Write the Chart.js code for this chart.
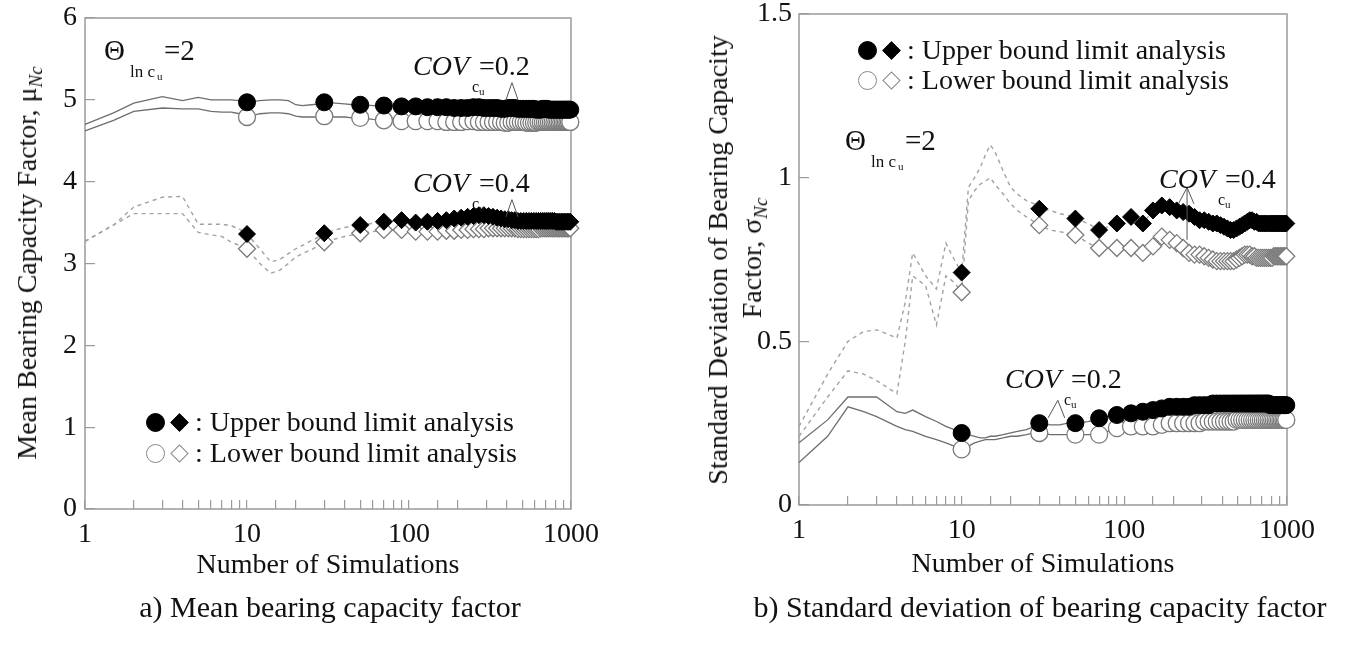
<!DOCTYPE html>
<html><head><meta charset="utf-8">
<script src="https://cdn.jsdelivr.net/npm/chart.js@4.4.1/dist/chart.umd.min.js"></script>
<style>
html,body{margin:0;padding:0;background:#fff;}
#wrap{position:relative;width:1370px;height:654px;overflow:hidden;font-family:'Liberation Serif','Times New Roman',serif;color:#111;}
canvas{position:absolute;top:0;}
.t{position:absolute;white-space:nowrap;line-height:1;}
.rot{position:absolute;white-space:nowrap;line-height:1;transform:translate(-50%,-50%) rotate(-90deg);font-size:28px;}
.cap{position:absolute;white-space:nowrap;line-height:1;transform:translateX(-50%);font-size:30px;}
.sym{position:absolute;box-sizing:border-box;}
</style></head>
<body><div id="wrap">
<canvas id="cL" width="650" height="600" style="left:0px"></canvas>
<canvas id="cR" width="720" height="600" style="left:650px"></canvas>
</div>
<script>
// ---------------- DATA ----------------
const xTickValues = [1, 10, 100, 1000];
// simulation counts where markers are drawn
const markerN = [10,30,50,70,90,110,130,150,170,190,210,230,250,270,290,310,330,350,370,390,
                 410,430,450,470,490,510,530,550,570,590,610,630,650,670,690,710,730,750,770,790,
                 810,830,850,870,890,910,930,950,970,990];
// early (un-marked) simulation counts for the running lines
const simN_L = [1,1.5,2,3,4,5,6,7,8,9,10,12,14,16,18,20,22,25,28,30,35,40,45,50,60,70];
const simN_R = [1,1.5,2,2.5,3,4,4.5,5,6,7,8,9,10,11,12,13,14,15,16,18,20,22,25,28,30,35,40,45,50,60,70];

// (a) mean bearing capacity factor
const meanUB02_line = [4.70,4.84,4.96,5.04,4.99,5.03,5.00,5.00,5.00,4.99,4.97,4.99,5.00,5.00,4.99,4.94,4.93,4.94,4.95,4.97,4.96,4.95,4.94,4.94,4.93,4.93];
const meanLB02_line = [4.62,4.75,4.86,4.90,4.89,4.89,4.86,4.85,4.85,4.83,4.79,4.83,4.84,4.84,4.83,4.80,4.79,4.79,4.79,4.80,4.79,4.79,4.78,4.78,4.76,4.75];
const meanUB04_line = [3.27,3.47,3.69,3.81,3.82,3.48,3.48,3.48,3.46,3.42,3.36,3.18,3.02,3.05,3.12,3.18,3.22,3.28,3.33,3.37,3.41,3.44,3.46,3.47,3.49,3.51];
const meanLB04_line = [3.27,3.47,3.61,3.61,3.61,3.38,3.35,3.33,3.26,3.22,3.18,3.00,2.88,2.92,3.00,3.08,3.12,3.17,3.22,3.26,3.30,3.33,3.35,3.37,3.39,3.41];

const meanUB02 = [4.97,4.97,4.94,4.93,4.92,4.92,4.91,4.91,4.91,4.90,
                  4.90,4.90,4.91,4.91,4.90,4.90,4.90,4.90,4.89,4.89,
                  4.90,4.90,4.90,4.89,4.89,4.89,4.89,4.89,4.89,4.89,
                  4.88,4.88,4.88,4.89,4.89,4.89,4.88,4.88,4.88,4.88,
                  4.88,4.88,4.88,4.88,4.88,4.88,4.88,4.88,4.88,4.88];
const meanLB02 = [4.79,4.80,4.78,4.75,4.74,4.74,4.74,4.74,4.73,4.73,
                  4.73,4.74,4.74,4.73,4.73,4.73,4.73,4.73,4.73,4.72,
                  4.72,4.73,4.73,4.73,4.73,4.73,4.72,4.72,4.72,4.72,
                  4.72,4.73,4.73,4.73,4.73,4.73,4.73,4.73,4.73,4.73,
                  4.73,4.73,4.73,4.73,4.73,4.73,4.73,4.73,4.73,4.73];
const meanUB04 = [3.36,3.37,3.47,3.51,3.53,3.50,3.51,3.52,3.53,3.55,
                  3.56,3.57,3.58,3.59,3.59,3.58,3.57,3.56,3.55,3.54,
                  3.54,3.53,3.53,3.52,3.52,3.52,3.52,3.52,3.52,3.52,
                  3.52,3.52,3.52,3.52,3.52,3.52,3.52,3.52,3.52,3.52,
                  3.51,3.51,3.51,3.51,3.51,3.51,3.51,3.51,3.51,3.51];
const meanLB04 = [3.18,3.26,3.37,3.41,3.41,3.39,3.39,3.39,3.40,3.40,
                  3.41,3.41,3.42,3.42,3.42,3.43,3.43,3.43,3.43,3.43,
                  3.43,3.43,3.43,3.42,3.42,3.42,3.42,3.42,3.42,3.42,
                  3.42,3.42,3.43,3.43,3.43,3.43,3.43,3.43,3.43,3.43,
                  3.43,3.43,3.43,3.43,3.43,3.43,3.43,3.43,3.43,3.43];

// (b) standard deviation of bearing capacity factor
const sdUB02_line = [0.19,0.26,0.33,0.33,0.33,0.285,0.28,0.29,0.27,0.255,0.24,0.23,0.22,0.215,0.21,0.205,0.205,0.21,0.21,0.215,0.22,0.225,0.23,0.24,0.25,0.245,0.245,0.25,0.25,0.255,0.265];
const sdLB02_line = [0.13,0.21,0.30,0.285,0.27,0.24,0.23,0.225,0.21,0.20,0.19,0.18,0.17,0.18,0.19,0.195,0.20,0.20,0.20,0.205,0.21,0.21,0.215,0.22,0.22,0.215,0.215,0.215,0.215,0.215,0.215];
const sdUB04_line = [0.24,0.40,0.50,0.53,0.535,0.51,0.62,0.77,0.70,0.66,0.80,0.75,0.71,0.97,1.00,1.03,1.07,1.10,1.08,1.02,0.97,0.95,0.93,0.92,0.905,0.90,0.89,0.885,0.875,0.86,0.84];
const sdLB04_line = [0.21,0.33,0.41,0.40,0.38,0.34,0.50,0.70,0.67,0.55,0.70,0.68,0.65,0.93,0.96,0.98,0.99,1.00,0.98,0.95,0.92,0.90,0.88,0.865,0.855,0.84,0.835,0.83,0.825,0.80,0.785];

const sdUB02 = [0.22,0.25,0.25,0.265,0.275,0.28,0.285,0.29,0.295,0.30,
                0.30,0.30,0.30,0.305,0.305,0.305,0.305,0.31,0.31,0.31,
                0.31,0.31,0.31,0.31,0.31,0.31,0.31,0.31,0.31,0.31,
                0.31,0.31,0.31,0.31,0.31,0.31,0.31,0.31,0.31,0.305,
                0.305,0.305,0.305,0.305,0.305,0.305,0.305,0.305,0.305,0.305];
const sdLB02 = [0.17,0.22,0.215,0.215,0.235,0.24,0.24,0.24,0.245,0.25,
                0.25,0.25,0.25,0.25,0.25,0.255,0.255,0.255,0.255,0.255,
                0.255,0.255,0.255,0.255,0.26,0.26,0.26,0.26,0.26,0.26,
                0.26,0.26,0.26,0.26,0.26,0.26,0.26,0.26,0.26,0.26,
                0.26,0.26,0.26,0.26,0.26,0.26,0.26,0.26,0.26,0.26];
const sdUB04 = [0.71,0.905,0.875,0.84,0.86,0.88,0.86,0.90,0.915,0.91,
                0.90,0.895,0.89,0.88,0.87,0.87,0.865,0.86,0.86,0.855,
                0.85,0.845,0.84,0.84,0.845,0.85,0.855,0.86,0.865,0.87,
                0.87,0.865,0.865,0.86,0.86,0.86,0.86,0.86,0.86,0.86,
                0.86,0.86,0.86,0.86,0.86,0.86,0.86,0.86,0.86,0.86];
const sdLB04 = [0.65,0.855,0.825,0.785,0.785,0.785,0.77,0.79,0.82,0.81,
                0.80,0.785,0.77,0.765,0.765,0.76,0.755,0.75,0.745,0.745,
                0.745,0.745,0.745,0.745,0.75,0.755,0.76,0.765,0.765,0.765,
                0.76,0.76,0.755,0.755,0.755,0.755,0.755,0.755,0.755,0.755,
                0.755,0.76,0.76,0.76,0.76,0.76,0.76,0.76,0.76,0.76];

// ---------------- HELPERS ----------------
const FONT = "'Liberation Serif','Times New Roman',serif";
function pts(xs, ys){ return xs.map((x,i)=>({x:x, y:ys[i]})); }
function runLine(simN, lineVals, markVals){
  const a = pts(simN, lineVals);
  markerN.forEach((n,i)=>{ if(n>70) a.push({x:n, y:markVals[i]}); });
  return a;
}
function lineDS(data, dashed){
  return {data:data, showLine:true, borderColor: dashed ? '#a2a2a2' : '#6e6e6e', borderWidth: dashed?1.4:1.3,
          borderDash: dashed ? [4,4] : [], pointRadius:0, pointHoverRadius:0, fill:false, tension:0, order:10, clip:false};
}
function markDS(vals, style, filled, order){
  return {data: pts(markerN, vals), showLine:false, pointStyle: style, pointRadius: 8.5, pointHoverRadius:8.5,
          pointBackgroundColor: filled ? '#000' : '#fff', pointBorderColor: filled ? '#000' : '#7a7a7a',
          pointBorderWidth: filled ? 1 : 1.3, order: order, clip:false};
}
const framePlugin = {
  id:'frame',
  beforeDatasetsDraw(chart){
    const a = chart.chartArea, c = chart.ctx;
    c.save(); c.strokeStyle='#9a9a9a'; c.lineWidth=1.5;
    c.strokeRect(a.left, a.top, a.right-a.left, a.bottom-a.top); c.restore();
  }
};
const leaderPlugin = {
  id:'leaders',
  afterDatasetsDraw(chart, args, opts){
    const c = chart.ctx, xs = chart.scales.x, ys = chart.scales.y;
    c.save(); c.strokeStyle='#555'; c.lineWidth=1;
    (opts.lines||[]).forEach(pl=>{
      c.beginPath();
      pl.forEach((p,i)=>{ const X=xs.getPixelForValue(p[0]), Y=ys.getPixelForValue(p[1]); if(i) c.lineTo(X,Y); else c.moveTo(X,Y); });
      c.stroke();
    });
    c.restore();
  }
};
function makeChart(id, cfg){
  return new Chart(document.getElementById(id), {
    type:'scatter',
    data:{datasets: cfg.datasets},
    options:{
      responsive:false, animation:false, events:[],
      layout:{padding:{left:0, top:cfg.top, right:cfg.right, bottom:0}},
      plugins:{legend:{display:false}, tooltip:{enabled:false}, leaders:{lines:cfg.leaders}},
      scales:{
        x:{type:'logarithmic', min:1, max:1000, position:'bottom',
           afterFit:s=>{ s.height = cfg.xh; s.paddingLeft=0; s.paddingRight=0; },
           grid:{drawOnChartArea:false, drawTicks:true, tickLength:-9, color:'#9a9a9a', lineWidth:1.2},
           border:{display:false},
           ticks:{autoSkip:false, maxRotation:0, minRotation:0, padding:18, color:'#111', font:{family:FONT, size:28},
                  callback:(v)=> xTickValues.includes(v) ? String(v) : ''},
           title:{display:true, text:'Number of Simulations', color:'#111', font:{family:FONT, size:28}, padding:{top:0, bottom:cfg.tb}}},
        y:{type:'linear', min:cfg.ymin, max:cfg.ymax,
           afterFit:s=>{ s.width = cfg.yw; s.paddingTop=0; s.paddingBottom=0; },
           grid:{drawOnChartArea:false, drawTicks:true, tickLength:-10, color:'#9a9a9a', lineWidth:1.2},
           border:{display:false},
           ticks:{stepSize:cfg.step, padding:cfg.ypad, color:'#111', font:{family:FONT, size:28},
                  callback:(v)=> String(Math.round(v*10)/10)}}
      }
    },
    plugins:[framePlugin, leaderPlugin]
  });
}

// ---------------- CHARTS ----------------
makeChart('cL', {
  top:18, right:79, xh:91, yw:85, tb:18, ymin:0, ymax:6, step:1, ypad:18,
  datasets:[
    markDS(meanUB02,'circle',true,1), markDS(meanLB02,'circle',false,2),
    markDS(meanUB04,'rectRot',true,1), markDS(meanLB04,'rectRot',false,2),
    lineDS(runLine(simN_L, meanUB02_line, meanUB02), false),
    lineDS(runLine(simN_L, meanLB02_line, meanLB02), false),
    lineDS(runLine(simN_L, meanUB04_line, meanUB04), true),
    lineDS(runLine(simN_L, meanLB04_line, meanLB04), true)
  ],
  leaders:[ [[397,5.0],[432,5.21],[471,5.0]], [[397,3.57],[432,3.78],[471,3.57]] ]
});
makeChart('cR', {
  top:14, right:83, xh:95, yw:149, tb:19, ymin:0, ymax:1.5, step:0.5, ypad:17,
  datasets:[
    markDS(sdUB02,'circle',true,1), markDS(sdLB02,'circle',false,2),
    markDS(sdUB04,'rectRot',true,1), markDS(sdLB04,'rectRot',false,2),
    lineDS(runLine(simN_R, sdUB02_line, sdUB02), false),
    lineDS(runLine(simN_R, sdLB02_line, sdLB02), false),
    lineDS(runLine(simN_R, sdUB04_line, sdUB04), true),
    lineDS(runLine(simN_R, sdLB04_line, sdLB04), true)
  ],
  leaders:[ [[34,0.266],[39,0.32],[43,0.266]], [[215,0.92],[243,0.97],[268,0.92]], [[243,0.97],[243,0.81]] ]
});

// ---------------- TEXT ----------------
const wrap = document.getElementById('wrap');
function txt(s, x, base, size, opt){
  opt = opt || {};
  const d = document.createElement('div'); d.className='t';
  if (opt.html) d.innerHTML = s; else d.textContent = s;
  d.style.fontSize = size+'px'; d.style.left = x+'px'; d.style.top = (base - 0.8375*size)+'px';
  if (opt.italic) d.style.fontStyle='italic';
  if (opt.color) d.style.color = opt.color;
  wrap.appendChild(d); return d;
}
function theta(x, base){
  txt('\u0398', x, base, 29);
  txt('ln c', x+26, base+17, 17);
  txt('u', x+53, base+20, 11);
  txt('=2', x+60, base, 29);
}
function cov(x, base, val){
  txt('COV', x, base, 28, {italic:true});
  txt('c', x+59, base+17, 16);
  txt('u', x+66, base+20, 11);
  txt('=' + val, x+66, base, 28);
}
function sym(x, y, kind){
  const d = document.createElement('div'); d.className='sym';
  const filled = kind[0]==='f';
  if (kind[1]==='c'){ d.style.width='19px'; d.style.height='19px'; d.style.borderRadius='50%';
    d.style.left=(x-9.5)+'px'; d.style.top=(y-9.5)+'px'; }
  else { d.style.width='13px'; d.style.height='13px'; d.style.left=(x-6.5)+'px'; d.style.top=(y-6.5)+'px';
    d.style.transform='rotate(45deg)'; }
  d.style.background = filled ? '#000' : '#fff';
  d.style.border = filled ? '1px solid #000' : '1.3px solid #888';
  wrap.appendChild(d);
}
function legend(x, y1, y2){
  sym(x, y1, 'fc'); sym(x+24, y1, 'fd');
  sym(x, y2, 'oc'); sym(x+24, y2, 'od');
  txt(': Upper bound limit analysis', x+40, y1+9, 28);
  txt(': Lower bound limit analysis', x+40, y2+9, 28);
}
// left panel
theta(104, 60);
cov(413, 75, '0.2');
cov(413, 192, '0.4');
legend(155, 422, 453);
// right panel
legend(867, 50, 80);
theta(845, 150);
cov(1159, 188, '0.4');
cov(1005, 388, '0.2');

// axis titles
function rot(html, cx, cy){
  const d = document.createElement('div'); d.className='rot'; d.innerHTML = html;
  d.style.left = cx+'px'; d.style.top = cy+'px'; wrap.appendChild(d);
}
rot('Mean Bearing Capacity Factor, \u03bc<span style="font-size:19px;font-style:italic;position:relative;top:6px">Nc</span>', 27, 263);
rot('Standard Deviation of Bearing Capacity', 718, 260);
rot('Factor, \u03c3<span style="font-size:19px;font-style:italic;position:relative;top:6px">Nc</span>', 752, 258);

// captions
function cap(s, cx, top){
  const d = document.createElement('div'); d.className='cap'; d.textContent = s;
  d.style.left = cx+'px'; d.style.top = top+'px'; wrap.appendChild(d);
}
cap('a) Mean bearing capacity factor', 330, 592);
cap('b) Standard deviation of bearing capacity factor', 1040, 592);
</script>
</body></html>
